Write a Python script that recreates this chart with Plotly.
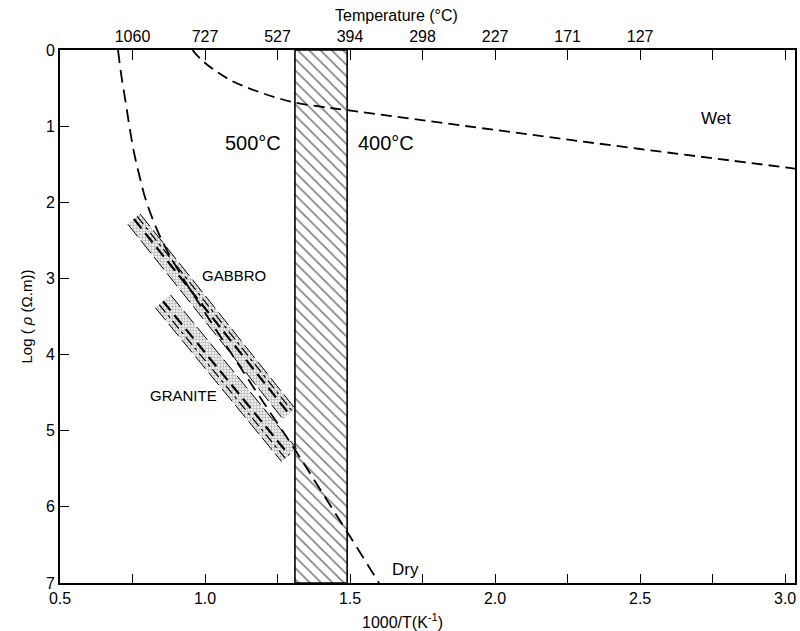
import plotly.graph_objects as go

# ---------------- data ----------------
# bottom axis: 1000/T (K^-1)
inv_t_ticks = [0.5, 0.75, 1.0, 1.25, 1.5, 1.75, 2.0, 2.25, 2.5, 2.75, 3.0]
inv_t_labels = ["0.5", "", "1.0", "", "1.5", "", "2.0", "", "2.5", "", "3.0"]

# top axis: temperature (°C) at the same 1000/T positions
temp_ticks = [0.75, 1.0, 1.25, 1.5, 1.75, 2.0, 2.25, 2.5, 2.75, 3.0]
temp_labels = ["1060", "727", "527", "394", "298", "227", "171", "127", "", ""]

log_rho_ticks = [0, 1, 2, 3, 4, 5, 6, 7]

# hatched 500°C - 400°C zone
zone_x = [1.31, 1.49]
zone_y = [0, 7]

# wet curve
wet_x = [0.957, 0.97, 1.0, 1.05, 1.1, 1.15, 1.2, 1.25, 1.31, 1.4, 1.49, 2.0, 2.5, 3.04]
wet_y = [0.0, 0.06, 0.17, 0.31, 0.42, 0.50, 0.57, 0.63, 0.69, 0.745, 0.79, 1.05, 1.30, 1.56]

# dry curve
dry_x = [0.700, 0.712, 0.727, 0.740, 0.756, 0.775, 0.796, 0.83, 0.87, 0.928, 1.0, 1.1, 1.2, 1.312, 1.4, 1.5, 1.60]
dry_y = [0.0, 0.35, 0.70, 1.02, 1.36, 1.67, 1.97, 2.32, 2.64, 3.02, 3.45, 4.04, 4.62, 5.26, 5.79, 6.39, 7.0]

# gabbro band (two edges + inner lines)
gabbro_edge_a_x = [0.776, 1.311]
gabbro_edge_a_y = [2.152, 4.712]
gabbro_edge_b_x = [0.734, 1.269]
gabbro_edge_b_y = [2.288, 4.848]
gabbro_mid_x = [0.755, 1.29]
gabbro_mid_y = [2.22, 4.78]
gabbro_mid2_x = [0.766, 1.301]
gabbro_mid2_y = [2.185, 4.745]

# granite band
granite_edge_a_x = [0.881, 1.316]
granite_edge_a_y = [3.215, 5.235]
granite_edge_b_x = [0.829, 1.264]
granite_edge_b_y = [3.385, 5.405]
granite_mid_x = [0.855, 1.29]
granite_mid_y = [3.30, 5.32]
granite_mid2_x = [0.842, 1.277]
granite_mid2_y = [3.343, 5.363]

FONT = "Liberation Sans"

fig = go.Figure()

# hatched zone
fig.add_trace(go.Scatter(
    x=[zone_x[0], zone_x[1], zone_x[1], zone_x[0], zone_x[0]],
    y=[zone_y[0], zone_y[0], zone_y[1], zone_y[1], zone_y[0]],
    mode="lines", fill="toself", fillcolor="white",
    fillpattern=dict(shape="\\", size=8, solidity=0.2, fgcolor="black", bgcolor="white"),
    line=dict(color="black", width=1.6), hoverinfo="skip"))


def band(ax, ay, bx, by, mx, my, m2x, m2y):
    fig.add_trace(go.Scatter(
        x=[ax[0], ax[1], bx[1], bx[0], ax[0]],
        y=[ay[0], ay[1], by[1], by[0], ay[0]],
        mode="lines", fill="toself", fillcolor="rgba(255,255,255,0)",
        fillpattern=dict(shape=".", size=3, solidity=0.5, fgcolor="#6e6e6e", bgcolor="rgba(255,255,255,0)"),
        line=dict(width=0), hoverinfo="skip"))
    for xx, yy, dash, w in [(ax, ay, "16px,5px", 1.0), (bx, by, "16px,5px", 1.0),
                            (mx, my, "12px,6px", 2.2), (m2x, m2y, "10px,4px,3px,4px", 1.2)]:
        fig.add_trace(go.Scatter(x=xx, y=yy, mode="lines",
                                 line=dict(color="black", width=w, dash=dash), hoverinfo="skip"))


band(gabbro_edge_a_x, gabbro_edge_a_y, gabbro_edge_b_x, gabbro_edge_b_y,
     gabbro_mid_x, gabbro_mid_y, gabbro_mid2_x, gabbro_mid2_y)
band(granite_edge_a_x, granite_edge_a_y, granite_edge_b_x, granite_edge_b_y,
     granite_mid_x, granite_mid_y, granite_mid2_x, granite_mid2_y)

# wet and dry curves
fig.add_trace(go.Scatter(x=wet_x, y=wet_y, mode="lines", line_shape="spline",
                         line=dict(color="black", width=1.8, dash="11px,6px"), hoverinfo="skip"))
fig.add_trace(go.Scatter(x=dry_x, y=dry_y, mode="lines", line_shape="spline",
                         line=dict(color="black", width=1.8, dash="13px,7px"), hoverinfo="skip"))

# invisible trace to carry the top axis
fig.add_trace(go.Scatter(x=[1.0], y=[0], xaxis="x2", mode="markers",
                         marker=dict(opacity=0), hoverinfo="skip"))

annotations = [
    dict(text="Temperature (°C)", x=1.66, y=1.0, xref="x", yref="paper", yanchor="middle", yshift=35,
         showarrow=False, font=dict(size=16)),
    dict(text="1000/T(K<sup>-1</sup>)", x=1.68, y=0.0, xref="x", yref="paper", yanchor="middle", yshift=-38,
         showarrow=False, font=dict(size=16)),
    dict(text="500°C", x=1.27, y=1.22, xref="x", yref="y", xanchor="right",
         showarrow=False, font=dict(size=20)),
    dict(text="400°C", x=1.52, y=1.22, xref="x", yref="y", xanchor="left",
         showarrow=False, font=dict(size=20)),
    dict(text="Wet", x=2.76, y=0.9, xref="x", yref="y", showarrow=False, font=dict(size=17)),
    dict(text="Dry", x=1.69, y=6.82, xref="x", yref="y", showarrow=False, font=dict(size=17)),
    dict(text="GABBRO", x=1.10, y=2.96, xref="x", yref="y", showarrow=False, font=dict(size=15)),
    dict(text="GRANITE", x=0.925, y=4.54, xref="x", yref="y", showarrow=False, font=dict(size=15)),
]

fig.update_layout(
    width=800, height=631,
    margin=dict(l=60, r=3, t=50, b=48),
    plot_bgcolor="white", paper_bgcolor="white",
    showlegend=False,
    font=dict(family=FONT, color="black", size=15),
    annotations=annotations,
    xaxis=dict(range=[0.5, 3.034], tickvals=inv_t_ticks, ticktext=inv_t_labels,
               ticks="inside", ticklen=9, tickwidth=1.3, tickcolor="black",
               showline=True, linewidth=2, linecolor="black", mirror=False,
               showgrid=False, zeroline=False, tickfont=dict(size=16)),
    xaxis2=dict(range=[0.5, 3.034], overlaying="x", side="top",
                tickvals=temp_ticks, ticktext=temp_labels,
                ticks="inside", ticklen=10, tickwidth=1.3, tickcolor="black",
                showline=True, linewidth=2, linecolor="black",
                showgrid=False, zeroline=False, tickfont=dict(size=16)),
    yaxis=dict(range=[7, 0], tickvals=log_rho_ticks,
               ticks="inside", ticklen=9, tickwidth=1.3, tickcolor="black",
               showline=True, linewidth=2, linecolor="black", mirror=True,
               showgrid=False, zeroline=False, tickfont=dict(size=16),
               title=dict(text="Log ( <i>ρ</i> (Ω.m))", font=dict(size=15), standoff=10)),
)

fig.write_html("out.html")
